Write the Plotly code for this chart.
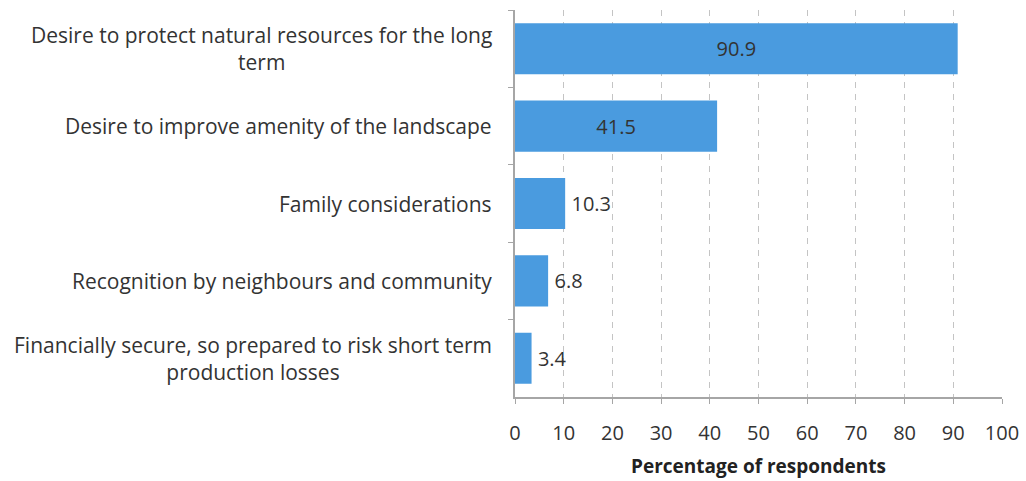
import plotly.graph_objects as go

# Reasons given by respondents (top to bottom)
reasons = [
    "Desire to protect natural resources for the long<br>term",
    "Desire to improve amenity of the landscape",
    "Family considerations",
    "Recognition by neighbours and community",
    "Financially secure, so prepared to risk short term<br>production losses",
]
percent = [90.9, 41.5, 10.3, 6.8, 3.4]
label_pos = ["inside", "inside", "outside", "outside", "outside"]
x_ticks = [0, 10, 20, 30, 40, 50, 60, 70, 80, 90, 100]

FONT = "'Open Sans', Lato, sans-serif"
TEXT = "#333333"
AXIS = "#a6a6a6"

labels = [
    f"{v:.1f}" if pos == "inside" else f"\u2009{v:.1f}"
    for v, pos in zip(percent, label_pos)
]

fig = go.Figure(
    go.Bar(
        x=percent,
        y=reasons,
        orientation="h",
        marker=dict(color="#4a9bdf", line=dict(width=0)),
        text=labels,
        textposition=label_pos,
        insidetextanchor="middle",
        textfont=dict(family=FONT, size=20, color=TEXT),
        cliponaxis=False,
        hoverinfo="skip",
    )
)

# Category labels drawn as centred multi-line text to the left of the axis
for r in reasons:
    fig.add_annotation(
        x=0, xref="paper", y=r, yref="y",
        text=r, showarrow=False,
        xanchor="right", yanchor="middle", align="center",
        xshift=-21,
        font=dict(family=FONT, size=21, color=TEXT),
    )

fig.update_layout(
    width=1026,
    height=481,
    margin=dict(l=515, r=24, t=10, b=84),
    paper_bgcolor="white",
    plot_bgcolor="white",
    bargap=0.34,
    showlegend=False,
    font=dict(family=FONT, size=20, color=TEXT),
)

fig.update_xaxes(
    range=[0, 100],
    automargin=False,
    tickvals=x_ticks,
    ticktext=[str(t) for t in x_ticks],
    showgrid=True,
    gridcolor="#c4c4c4",
    griddash="6px,6px",
    gridwidth=1,
    zeroline=False,
    showline=True,
    linecolor=AXIS,
    linewidth=2,
    ticks="outside",
    ticklen=5,
    tickcolor=AXIS,
    tickwidth=1,
    ticklabelstandoff=12,
    tickfont=dict(family=FONT, size=20, color=TEXT),
    title=dict(
        text="<b>Percentage of respondents</b>",
        font=dict(family=FONT, size=19, color="#222222"),
        standoff=15,
    ),
)

fig.update_yaxes(
    autorange="reversed",
    automargin=False,
    showline=True,
    linecolor=AXIS,
    linewidth=2,
    ticks="outside",
    tickson="boundaries",
    ticklen=5,
    tickcolor=AXIS,
    tickwidth=1,
    showticklabels=False,
    showgrid=False,
    zeroline=False,
)

fig.write_html("out.html")
